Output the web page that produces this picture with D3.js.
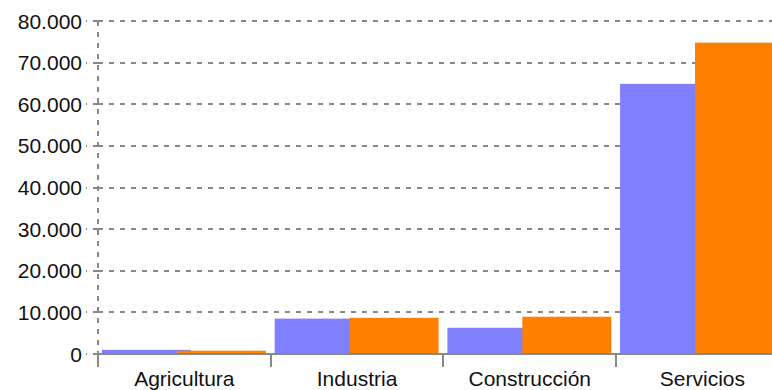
<!DOCTYPE html>
<html><head><meta charset="utf-8">
<script src="https://cdn.jsdelivr.net/npm/d3@7"></script>
<style>body{margin:0;background:#fff}svg{display:block}</style>
</head><body>
<svg id="c" width="772" height="390"></svg>
<script>
const categories = ["Agricultura", "Industria", "Construcción", "Servicios"];
const seriesA = [1000, 8500, 6300, 64900];
const seriesB = [800, 8700, 8950, 74800];
const yTicks = [0, 10000, 20000, 30000, 40000, 50000, 60000, 70000, 80000];

const svg = d3.select("#c");
const x0 = 98, bandW = 172.7;
const x = d3.scaleBand().domain(categories).range([x0, x0 + bandW * categories.length]).padding(0);
const y = d3.scaleLinear().domain([0, 80000]).range([354, 21]);
const fmt = v => d3.format(",")(v).replace(/,/g, ".");
const grey = "#888";

// gridlines
svg.append("g").selectAll("line").data(yTicks.filter(d => d > 0)).join("line")
  .attr("x1", x0).attr("x2", 772).attr("y1", d => Math.round(y(d))).attr("y2", d => Math.round(y(d)))
  .attr("stroke", grey).attr("stroke-width", 2).attr("stroke-dasharray", "5,6");

// y axis dashed line
svg.append("line").attr("x1", x0).attr("x2", x0).attr("y1", y(80000)).attr("y2", y(0))
  .attr("stroke", grey).attr("stroke-width", 2).attr("stroke-dasharray", "5,6");

// y ticks + labels
const yg = svg.append("g");
yg.selectAll("line").data(yTicks).join("line")
  .attr("x1", x0).attr("x2", x0 - 12).attr("y1", d => Math.round(y(d))).attr("y2", d => Math.round(y(d)))
  .attr("stroke", grey).attr("stroke-width", 2).attr("stroke-dasharray", "5,6");
yg.selectAll("text").data(yTicks).join("text")
  .attr("x", 82).attr("y", d => y(d)).attr("dy", "0.36em").attr("text-anchor", "end")
  .attr("font-family", "Liberation Sans, Arial, sans-serif").attr("font-size", 21).attr("fill", "#111")
  .text(fmt);

// bars
const colors = ["#8080ff", "#ff8000"];
const series = [seriesA, seriesB];
const bw = x.bandwidth();
series.forEach((vals, i) => {
  svg.append("g").selectAll("rect").data(vals).join("rect")
    .attr("x", (d, j) => x(categories[j]) + bw * (0.023 + i * 0.434))
    .attr("width", bw * 0.515)
    .attr("y", d => y(d))
    .attr("height", d => y(0) - y(d))
    .attr("fill", colors[i]);
});

// x axis baseline
svg.append("line").attr("x1", x0 - 1).attr("x2", 772).attr("y1", y(0)).attr("y2", y(0))
  .attr("stroke", grey).attr("stroke-width", 2);
const bounds = categories.map(c => x(c)).concat([x0 + bandW * categories.length]);
svg.append("g").selectAll("line").data(bounds).join("line")
  .attr("x1", d => Math.round(d)).attr("x2", d => Math.round(d)).attr("y1", y(0)).attr("y2", y(0) + 13)
  .attr("stroke", grey).attr("stroke-width", 2);
svg.append("g").selectAll("text").data(categories).join("text")
  .attr("x", d => x(d) + bw / 2).attr("y", 386).attr("text-anchor", "middle")
  .attr("font-family", "Liberation Sans, Arial, sans-serif").attr("font-size", 21).attr("fill", "#111")
  .text(d => d);
</script>
</body></html>
